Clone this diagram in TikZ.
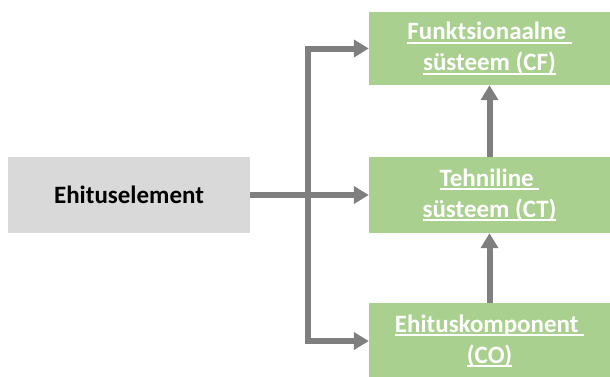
\documentclass[tikz,border=0pt]{standalone}
\usepackage{fontspec}
\setmainfont{Carlito}
\usepackage{xcolor}
\usetikzlibrary{arrows.meta}
\definecolor{boxgray}{HTML}{D9D9D9}
\definecolor{boxgreen}{HTML}{A9D08E}
\definecolor{linegray}{HTML}{7F7F7F}
\newsavebox\ulbox
\newcommand\ulx[1]{\sbox\ulbox{#1}\rlap{\rule[-4pt]{\wd\ulbox}{1.8pt}}\usebox\ulbox}
\begin{document}
\begin{tikzpicture}[x=1pt, y=-1pt,
  every node/.style={rectangle, inner sep=0pt, align=center,
    font=\fontsize{25}{31}\selectfont\bfseries},
  elem/.style={fill=boxgray, text=black, minimum width=242pt, minimum height=76pt},
  sys/.style={fill=boxgreen, text=white, minimum width=241pt, minimum height=76pt},
  link/.style={draw=linegray, line width=6pt, -{Triangle[length=15pt,width=17pt]}}]
\useasboundingbox (0,0) rectangle (610,376);
% Left element
\node[elem] (elem) at (129,195) {Ehituselement};
% Right column of systems
\node[sys, minimum height=73pt] (cf) at (489.5,48.5) {\ulx{Funktsionaalne\ }\\\ulx{süsteem (CF)}};
\node[sys] (ct) at (489.5,195) {\ulx{Tehniline\ }\\\ulx{süsteem (CT)}};
\node[sys] (co) at (489.5,341) {\ulx{Ehituskomponent\ }\\\ulx{(CO)}};
% Connectors
\draw[link] (elem.east) -- (ct.west);
\draw[link] (elem.east) -- ++(58,0) |- (cf.west);
\draw[link] (elem.east) -- ++(58,0) |- (co.west);
\draw[link] (ct) -- (cf);
\draw[link] (co) -- (ct);
\end{tikzpicture}
\end{document}
